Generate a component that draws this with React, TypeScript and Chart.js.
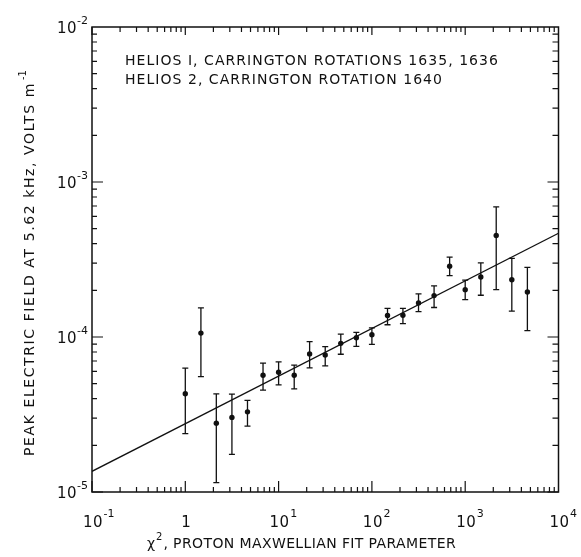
import React, { useEffect, useRef } from 'react';
import { Chart, registerables } from 'chart.js';

Chart.register(...registerables);

// ---- data ----
const xValues = [1, 1.47, 2.15, 3.16, 4.64, 6.81, 10, 14.7, 21.5, 31.6, 46.4, 68.1, 100, 147, 215, 316, 464, 681, 1000, 1470, 2150, 3160, 4640];
const yValues = [4.3e-5, 1.06e-4, 2.78e-5, 3.03e-5, 3.29e-5, 5.66e-5, 5.92e-5, 5.66e-5, 7.78e-5, 7.66e-5, 9.1e-5, 9.9e-5, 1.035e-4, 1.375e-4, 1.38e-4, 1.66e-4, 1.85e-4, 2.86e-4, 2.02e-4, 2.44e-4, 4.52e-4, 2.34e-4, 1.95e-4];
const yLow = [2.38e-5, 5.55e-5, 1.15e-5, 1.75e-5, 2.66e-5, 4.54e-5, 4.91e-5, 4.63e-5, 6.32e-5, 6.52e-5, 7.74e-5, 8.7e-5, 8.97e-5, 1.2e-4, 1.22e-4, 1.46e-4, 1.55e-4, 2.49e-4, 1.74e-4, 1.86e-4, 2.02e-4, 1.47e-4, 1.1e-4];
const yHigh = [6.3e-5, 1.54e-4, 4.3e-5, 4.28e-5, 3.9e-5, 6.79e-5, 6.92e-5, 6.59e-5, 9.33e-5, 8.67e-5, 1.045e-4, 1.07e-4, 1.146e-4, 1.53e-4, 1.53e-4, 1.9e-4, 2.14e-4, 3.28e-4, 2.33e-4, 3.01e-4, 6.92e-4, 3.22e-4, 2.81e-4];
const fitX = [0.1, 10000];
const fitY = [1.36e-5, 4.67e-4];

const xTickValues = [0.1, 1, 10, 100, 1000, 10000];
const xTickBases = ['10', '1', '10', '10', '10', '10'];
const xTickExps = ['-1', '', '1', '2', '3', '4'];
const yTickValues = [1e-5, 1e-4, 1e-3, 1e-2];
const yTickBases = ['10', '10', '10', '10'];
const yTickExps = ['-5', '-4', '-3', '-2'];

const annotationLines = ['HELIOS I, CARRINGTON ROTATIONS 1635, 1636', 'HELIOS 2, CARRINGTON ROTATION 1640'];
const xTitleParts = ['χ', '2', ', PROTON MAXWELLIAN FIT PARAMETER'];
const yTitleParts = ['PEAK ELECTRIC FIELD AT 5.62 kHz, VOLTS m', '-1'];

const FONT = '"DejaVu Sans", "Liberation Sans", sans-serif';

function setSpacing(ctx: any, px: number) {
  if ('letterSpacing' in ctx) ctx.letterSpacing = px + 'px';
}

function spacingFor(ctx: any, text: string, target: number) {
  setSpacing(ctx, 0);
  const w = ctx.measureText(text).width;
  return (target - w) / text.length;
}

const errorBarPlugin = {
  id: 'errorBars',
  afterDatasetsDraw(chart: any) {
    const { ctx, scales } = chart;
    const xs = scales.x;
    const ys = scales.y;
    ctx.save();
    ctx.strokeStyle = '#111';
    ctx.lineWidth = 1.3;
    xValues.forEach((xv, i) => {
      const px = xs.getPixelForValue(xv);
      const pl = ys.getPixelForValue(yLow[i]);
      const ph = ys.getPixelForValue(yHigh[i]);
      ctx.beginPath();
      ctx.moveTo(px, pl);
      ctx.lineTo(px, ph);
      ctx.moveTo(px - 3, pl);
      ctx.lineTo(px + 3, pl);
      ctx.moveTo(px - 3, ph);
      ctx.lineTo(px + 3, ph);
      ctx.stroke();
    });
    ctx.restore();
  },
};

const framePlugin = {
  id: 'frame',
  afterDraw(chart: any) {
    const { ctx, chartArea, scales } = chart;
    const xs = scales.x;
    const ys = scales.y;
    const { left, right, top, bottom } = chartArea;
    ctx.save();
    ctx.strokeStyle = '#111';
    ctx.fillStyle = '#111';
    ctx.lineWidth = 1.5;
    ctx.strokeRect(left, top, right - left, bottom - top);

    ctx.lineWidth = 1.2;
    ctx.beginPath();
    // x ticks
    for (let d = -1; d <= 3; d++) {
      for (let m = 1; m <= 9; m++) {
        const v = m * Math.pow(10, d);
        const px = xs.getPixelForValue(v);
        const major = m === 1;
        ctx.moveTo(px, bottom);
        ctx.lineTo(px, bottom - (major ? 11 : 5));
        ctx.moveTo(px, top);
        ctx.lineTo(px, top + (major ? 8 : 5));
      }
    }
    // y ticks
    for (let d = -5; d <= -3; d++) {
      for (let m = 1; m <= 9; m++) {
        const v = m * Math.pow(10, d);
        const py = ys.getPixelForValue(v);
        const major = m === 1;
        ctx.moveTo(left, py);
        ctx.lineTo(left + (major ? 11 : 5), py);
        ctx.moveTo(right, py);
        ctx.lineTo(right - (major ? 11 : 6), py);
      }
    }
    ctx.stroke();

    // x tick labels
    ctx.textBaseline = 'alphabetic';
    xTickValues.forEach((v, i) => {
      const px = xs.getPixelForValue(v);
      ctx.font = `15px ${FONT}`;
      setSpacing(ctx, 0.5);
      const bw = ctx.measureText(xTickBases[i]).width;
      ctx.textAlign = 'left';
      const bx = px - bw / 2 + 1;
      ctx.fillText(xTickBases[i], bx, 527);
      if (xTickExps[i]) {
        ctx.font = `11px ${FONT}`;
        setSpacing(ctx, 0);
        ctx.fillText(xTickExps[i], bx + bw + 0.5, 517);
      }
    });

    // y tick labels
    yTickValues.forEach((v, i) => {
      const py = ys.getPixelForValue(v);
      ctx.font = `11px ${FONT}`;
      setSpacing(ctx, 0);
      const ew = ctx.measureText(yTickExps[i]).width;
      const ex = 88 - ew;
      ctx.textAlign = 'left';
      ctx.fillText(yTickExps[i], ex, py - 3);
      ctx.font = `15px ${FONT}`;
      setSpacing(ctx, 0.5);
      const bw = ctx.measureText(yTickBases[i]).width;
      ctx.fillText(yTickBases[i], ex - bw, py + 6);
    });

    // annotation lines
    ctx.font = `14px ${FONT}`;
    const sp = spacingFor(ctx, annotationLines[1], 318);
    setSpacing(ctx, sp);
    ctx.textAlign = 'left';
    ctx.fillText(annotationLines[0], 125, 65);
    ctx.fillText(annotationLines[1], 125, 84);

    // x title
    const tb = 548;
    ctx.font = `14px ${FONT}`;
    setSpacing(ctx, 0);
    const chiW = ctx.measureText(xTitleParts[0]).width;
    ctx.fillText(xTitleParts[0], 147, tb);
    ctx.font = `10px ${FONT}`;
    const supW = ctx.measureText(xTitleParts[1]).width;
    ctx.fillText(xTitleParts[1], 147 + chiW + 1, tb - 8);
    ctx.font = `14px ${FONT}`;
    const restX = 147 + chiW + supW + 2;
    const sp2 = spacingFor(ctx, xTitleParts[2], 456 - restX);
    setSpacing(ctx, sp2);
    ctx.fillText(xTitleParts[2], restX, tb);

    // y title (rotated)
    ctx.save();
    ctx.translate(34, 456);
    ctx.rotate(-Math.PI / 2);
    ctx.font = `14px ${FONT}`;
    const sp3 = spacingFor(ctx, yTitleParts[0], 374);
    setSpacing(ctx, sp3);
    ctx.fillText(yTitleParts[0], 0, 0);
    setSpacing(ctx, 0);
    ctx.font = `10px ${FONT}`;
    ctx.fillText(yTitleParts[1], 376, -8);
    ctx.restore();

    ctx.restore();
  },
};

export default function App() {
  const ref = useRef<HTMLCanvasElement | null>(null);

  useEffect(() => {
    if (!ref.current) return;
    const chart = new Chart(ref.current, {
      type: 'scatter',
      data: {
        datasets: [
          {
            type: 'line',
            data: fitX.map((x, i) => ({ x, y: fitY[i] })),
            borderColor: '#111',
            borderWidth: 1.3,
            pointRadius: 0,
            fill: false,
          } as any,
          {
            type: 'scatter',
            data: xValues.map((x, i) => ({ x, y: yValues[i] })),
            backgroundColor: '#111',
            borderColor: '#111',
            pointRadius: 2.7,
            pointBorderWidth: 0,
          },
        ],
      },
      options: {
        responsive: false,
        maintainAspectRatio: false,
        animation: false,
        devicePixelRatio: 1,
        layout: { padding: { left: 92, top: 27, right: 22.5, bottom: 65 } },
        scales: {
          x: { type: 'logarithmic', min: 0.1, max: 10000, display: false },
          y: { type: 'logarithmic', min: 1e-5, max: 1e-2, display: false },
        },
        plugins: {
          legend: { display: false },
          tooltip: { enabled: false },
        },
      },
      plugins: [errorBarPlugin, framePlugin],
    });
    return () => chart.destroy();
  }, []);

  return (
    <div style={{ position: 'fixed', left: 0, top: 0, width: 581, height: 557, background: '#fff' }}>
      <canvas ref={ref} width={581} height={557} />
    </div>
  );
}
